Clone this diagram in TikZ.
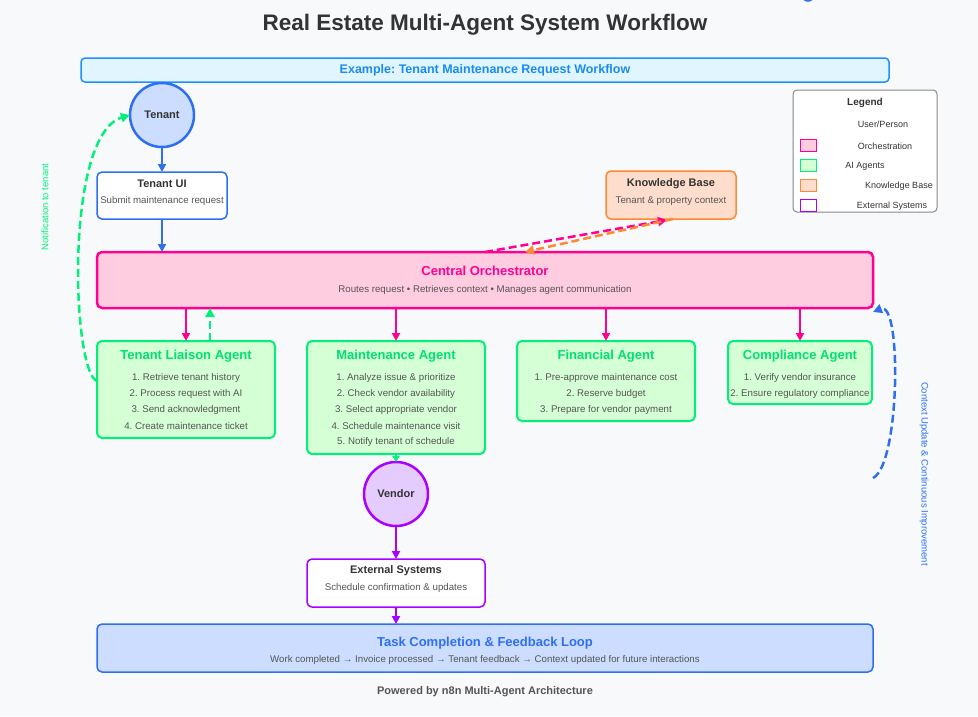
\documentclass[tikz,border=0pt]{standalone}
\usepackage{fontspec}
\setmainfont{Liberation Sans}
\usetikzlibrary{arrows.meta}
\definecolor{bgc}{HTML}{F8F9FB}
\definecolor{tblue}{HTML}{2E6FF2}
\definecolor{tbluefill}{HTML}{CCDDFF}
\definecolor{bannerb}{HTML}{1E90FF}
\definecolor{bannerf}{HTML}{E1F5FE}
\definecolor{bannert}{HTML}{1A8CF0}
\definecolor{mag}{HTML}{FF0090}
\definecolor{pinkf}{HTML}{FFCCE0}
\definecolor{grn}{HTML}{00F07A}
\definecolor{grnt}{HTML}{00E070}
\definecolor{grnf}{HTML}{D5FFD5}
\definecolor{org}{HTML}{FF8833}
\definecolor{orgf}{HTML}{FFDDCC}
\definecolor{pur}{HTML}{AA00FF}
\definecolor{purf}{HTML}{E5CCFF}
\definecolor{dark}{HTML}{333333}
\definecolor{mid}{HTML}{555555}
\definecolor{legb}{HTML}{888888}
\frenchspacing
\begin{document}
\begin{tikzpicture}[x=1pt,y=-1pt,
  box/.style={draw, rounded corners=5pt, line width=2pt, anchor=north west, inner sep=0pt, outer sep=0pt},
  circ/.style={draw, circle, line width=2.5pt, minimum size=64pt, inner sep=0pt, outer sep=0pt, font=\fontsize{11}{13}\selectfont\bfseries, text=dark},
  ttl/.style={font=\fontsize{11}{13}\selectfont\bfseries, text=dark, inner sep=0pt},
  bigttl/.style={font=\fontsize{13}{15}\selectfont\bfseries, inner sep=0pt},
  sub/.style={font=\fontsize{9.7}{11}\selectfont, text=mid, inner sep=0pt},
  legt/.style={font=\fontsize{9}{11}\selectfont, text=dark, inner sep=0pt},
  swatch/.style={draw, line width=1.2pt, minimum width=16pt, minimum height=12pt, inner sep=0pt, anchor=north west},
  arr/.style={-{Triangle[length=8pt,width=8pt]}, line width=2pt},
  darr/.style={-{Triangle[length=9pt,width=9pt]}, line width=2.5pt, dash pattern=on 8pt off 4pt},
]
\useasboundingbox[fill=bgc] (0,0) rectangle (978,716);

% tiny blue arc at top edge
\draw[tblue, line width=1.5pt] (808,-5) circle (6pt);

% title
\node[font=\fontsize{22.5}{26}\selectfont\bfseries, text=dark, inner sep=0pt] (title) at (485,25) {Real Estate Multi-Agent System Workflow};

% banner
\node[box, draw=bannerb, fill=bannerf, rounded corners=4pt, line width=1.5pt, minimum width=808pt, minimum height=24pt] (banner) at (81,58) {};
\node[font=\fontsize{12.5}{15}\selectfont\bfseries, text=bannert, inner sep=0pt] (bannerT) at (485,70) {Example: Tenant Maintenance Request Workflow};

% tenant
\node[circ, draw=tblue, fill=tbluefill] (tenant) at (162,115) {Tenant};

% tenant UI
\node[box, draw=tblue, fill=white, line width=1.5pt, minimum width=130pt, minimum height=47pt] (tui) at (97,172) {};
\node[ttl] (tuiT) at (162,184) {Tenant UI};
\node[sub] (tuiS) at (162,201) {Submit maintenance request};

% knowledge base
\node[box, draw=org, fill=orgf, line width=1.5pt, minimum width=130pt, minimum height=48pt] (kb) at (606,171) {};
\node[ttl] (kbT) at (671,184) {Knowledge Base};
\node[sub] (kbS) at (671,201) {Tenant \& property context};

% orchestrator
\node[box, draw=mag, fill=pinkf, line width=2.5pt, minimum width=776pt, minimum height=56pt] (orch) at (97,252) {};
\node[bigttl, text=mag] (orchT) at (485,271) {Central Orchestrator};
\node[sub] (orchS) at (485,290) {Routes request • Retrieves context • Manages agent communication};

% legend
\node[box, draw=legb, fill=white, line width=1pt, rounded corners=4pt, minimum width=144pt, minimum height=122pt] (legend) at (793,90) {};
\node[font=\fontsize{10}{12}\selectfont\bfseries, text=dark, inner sep=0pt] (legT) at (865,103) {Legend};
\node[legt] (leg1) at (883,124) {User/Person};
\node[swatch, draw=mag, fill=pinkf] (sw2) at (800,139) {};
\node[legt] (leg2) at (885,146) {Orchestration};
\node[swatch, draw=grn, fill=grnf] (sw3) at (800,159) {};
\node[legt] (leg3) at (865,166) {AI Agents};
\node[swatch, draw=org, fill=orgf] (sw4) at (800,179) {};
\node[legt] (leg4) at (899,186) {Knowledge Base};
\begin{scope}
\clip (793,90) rectangle (937,211);
\node[swatch, draw=pur, fill=white] (sw5) at (800,199) {};
\end{scope}
\node[legt] (leg5) at (892,206) {External Systems};

% agents
\tikzset{agent/.style={box, draw=grn, fill=grnf, line width=2pt}}
\node[agent, minimum width=178pt, minimum height=97pt] (tla) at (97,341) {};
\node[bigttl, text=grnt] (tlaT) at (186,356) {Tenant Liaison Agent};
\node[sub] at (186,378) {1. Retrieve tenant history};
\node[sub] at (186,394) {2. Process request with AI};
\node[sub] at (186,410) {3. Send acknowledgment};
\node[sub] at (186,426) {4. Create maintenance ticket};

\node[agent, minimum width=178pt, minimum height=113pt] (ma) at (307,341) {};
\node[bigttl, text=grnt] (maT) at (396,356) {Maintenance Agent};
\node[sub] at (396,378) {1. Analyze issue \& prioritize};
\node[sub] at (396,394) {2. Check vendor availability};
\node[sub] at (396,410) {3. Select appropriate vendor};
\node[sub] at (396,426) {4. Schedule maintenance visit};
\node[sub] at (396,442) {5. Notify tenant of schedule};

\node[agent, minimum width=178pt, minimum height=80pt] (fa) at (517,341) {};
\node[bigttl, text=grnt] (faT) at (606,356) {Financial Agent};
\node[sub] at (606,378) {1. Pre-approve maintenance cost};
\node[sub] at (606,394) {2. Reserve budget};
\node[sub] at (606,410) {3. Prepare for vendor payment};

\node[agent, minimum width=144pt, minimum height=63pt] (ca) at (728,341) {};
\node[bigttl, text=grnt] (caT) at (800,356) {Compliance Agent};
\node[sub] at (800,378) {1. Verify vendor insurance};
\node[sub] at (800,394) {2. Ensure regulatory compliance};

% vendor
\node[circ, draw=pur, fill=purf] (vendor) at (396,494) {Vendor};

% external systems
\node[box, draw=pur, fill=white, line width=1.5pt, minimum width=178pt, minimum height=48pt] (ext) at (307,559) {};
\node[ttl] (extT) at (396,571) {External Systems};
\node[sub] (extS) at (396,588) {Schedule confirmation \& updates};

% task completion
\node[box, draw=tblue, fill=tbluefill, line width=1.5pt, minimum width=776pt, minimum height=48pt] (task) at (97,624) {};
\node[bigttl, text=tblue] (taskT) at (485,643) {Task Completion \& Feedback Loop};
\node[sub] (taskS) at (485,660) {Work completed → Invoice processed → Tenant feedback → Context updated for future interactions};

% footer
\node[font=\fontsize{11}{13}\selectfont\bfseries, text=mid, inner sep=0pt] (footer) at (485,692) {Powered by n8n Multi-Agent Architecture};

% connectors
\draw[arr, tblue] (tenant) -- (tui);
\draw[arr, tblue] (tui.south) -- (tui.south |- orch.north);
\draw[darr, mag] (orch.north) -- ([xshift=-4pt,yshift=-1pt]kb.south);
\draw[darr, org] ([xshift=2pt]kb.south) -- ([xshift=40pt]orch.north);
\draw[arr, mag] (orch.south -| tla.north) -- (tla.north);
\draw[arr, mag] (orch.south -| ma.north) -- (ma.north);
\draw[arr, mag] (orch.south -| fa.north) -- (fa.north);
\draw[arr, mag] (orch.south -| ca.north) -- (ca.north);
\draw[darr, grn] ([xshift=24pt]tla.north) -- ([xshift=24pt]tla.north |- orch.south);
\draw[-{Triangle[length=6pt,width=7pt]}, line width=2pt, grn] (ma.south) -- (vendor.north);
\draw[arr, pur] (vendor.south) -- (ext.north);
\draw[arr, pur] (ext.south) -- (ext.south |- task.north);

% notification curve
\coordinate (nstart) at (97,381);
\draw[darr, grn] (nstart) .. controls (72,372) and (64,135) .. (tenant.west);
\node[font=\fontsize{9.5}{11}\selectfont, text=grn, rotate=90, inner sep=0pt] (notif) at (45,207) {Notification to tenant};

% context update curve
\coordinate (cstart) at (873,478);
\draw[darr, tblue] (cstart) .. controls (900,465) and (902,300) .. ([yshift=-32pt]orch.east);
\node[font=\fontsize{9.5}{11}\selectfont, text=tblue, rotate=-90, inner sep=0pt] (ctx) at (924,474) {Context Update \& Continuous Improvement};
\end{tikzpicture}
\end{document}
